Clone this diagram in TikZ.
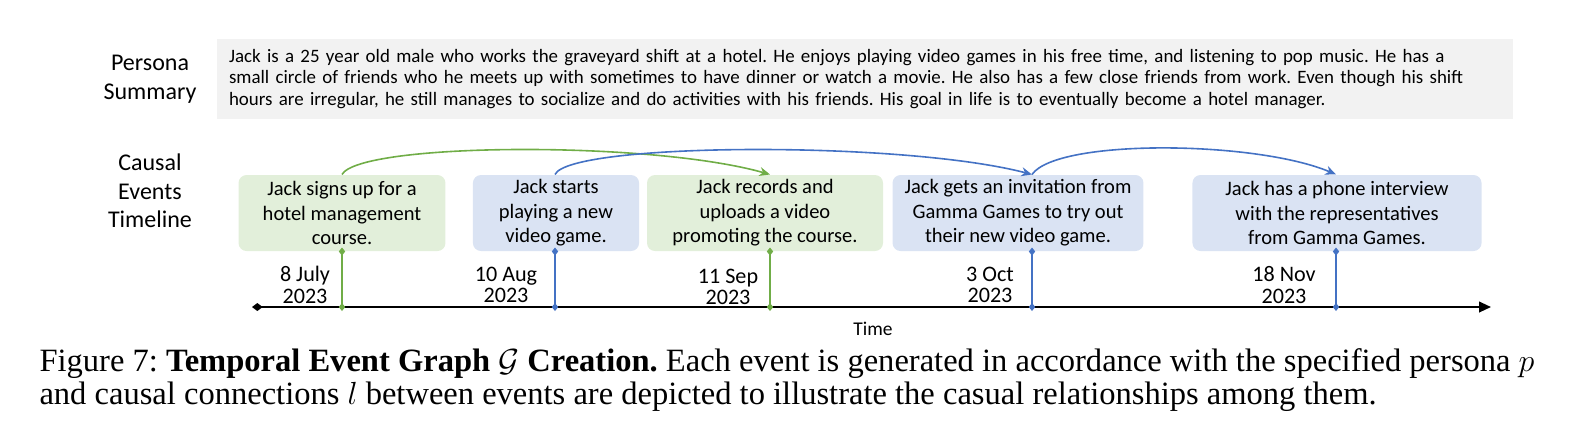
\documentclass[tikz,border=0pt]{standalone}
\usepackage{fontspec}
\usepackage{amsmath}
\setmainfont{Carlito}
\newfontfamily\capfont{Liberation Serif}
\usetikzlibrary{arrows.meta}
\frenchspacing

\definecolor{grnfill}{HTML}{E2EFDA}
\definecolor{blufill}{HTML}{DAE3F3}
\definecolor{grn}{HTML}{70AD47}
\definecolor{blu}{HTML}{4472C4}
\definecolor{grayfill}{HTML}{F2F2F2}

\begin{document}
\begin{tikzpicture}[x=0.375pt,y=-0.375pt,
        side/.style={align=center, font=\fontsize{9}{10.7}\selectfont},
        persona/.style={fill=grayfill, minimum width=486pt, minimum height=30pt,
          text width=477pt, inner xsep=4.5pt, align=left,
          font=\fontsize{7.1}{8.2}\selectfont},
        event/.style={rounded corners=3pt, minimum height=28.5pt, align=center,
          inner sep=1pt, font=\fontsize{7.7}{9.15}\selectfont},
        date/.style={align=center, font=\fontsize{8.3}{8}\selectfont},
        stem/.style={draw=#1, line width=0.6pt,
          {Diamond[length=3pt,width=2.4pt,fill=#1]}-{Diamond[length=3pt,width=2.4pt,fill=#1]},
          shorten <=-1.5pt, shorten >=-1.5pt},
        link/.style={draw=#1, line width=0.6pt, -{Stealth[length=4pt,width=3.4pt]}}]
        \useasboundingbox (0,0) rectangle (1595,438);

        \node[side] (lp) at (150,79) {Persona\\Summary};
        \node[side] (lc) at (150,191) {Causal\\Events\\Timeline};

        \node[persona] (ps) at (865,79) {Jack is a 25 year old male who works the graveyard shift at a hotel. He enjoys playing video games in his free time, and listening to pop music. He has a\\
          small circle of friends who he meets up with sometimes to have dinner or watch a movie. He also has a few close friends from work. Even though his shift\\
          hours are irregular, he still manages to socialize and do activities with his friends. His goal in life is to eventually become a hotel manager.};

        \node[event, fill=grnfill, minimum width=77.6pt] (e1) at (342,213) {Jack signs up for a\\hotel management\\course.};
        \node[event, fill=blufill, minimum width=62.3pt] (e2) at (556,213) {Jack starts\\playing a new\\video game.};
        \node[event, fill=grnfill, minimum width=88.5pt] (e3) at (765,213) {Jack records and\\uploads a video\\promoting the course.};
        \node[event, fill=blufill, minimum width=94.1pt] (e4) at (1018,213) {Jack gets an invitation from\\Gamma Games to try out\\their new video game.};
        \node[event, fill=blufill, minimum width=108.4pt] (e5) at (1337,213) {Jack has a phone interview\\with the representatives\\from Gamma Games.};

        \coordinate (a0) at (252,307);
        \coordinate (a1) at (1491,307);
        \coordinate (s1) at (342,307);
        \coordinate (s2) at (555,307);
        \coordinate (s3) at (770,307);
        \coordinate (s4) at (1032,307);
        \coordinate (s5) at (1336,307);

        \draw[line width=0.75pt, {Diamond[length=4pt,width=3pt]}-{Triangle[length=4.5pt,width=4pt]}] (a0) -- (a1);
        \node[font=\fontsize{7.3}{8}\selectfont] (tm) at (873,329) {Time};

        \foreach \n/\col in {1/grn,2/blu,3/grn,4/blu,5/blu}
          \draw[stem=\col] (e\n.south -| s\n) -- (s\n);

        \node[date] (d1) at (305,285) {8 July\\2023};
        \node[date] (d2) at (506,285) {10 Aug\\2023};
        \node[date] (d3) at (728,287) {11 Sep\\2023};
        \node[date] (d4) at (990,285) {3 Oct\\2023};
        \node[date] (d5) at (1284,285) {18 Nov\\2023};

        \draw[link=grn] (e1.north -| s1) .. controls +(18,-32) and +(-120,-34) .. (e3.north -| s3);
        \draw[link=blu] (e2.north -| s2) .. controls +(15,-32) and +(-130,-34) .. (e4.north -| s4);
        \draw[link=blu] (e4.north -| s4) .. controls +(25,-36) and +(-80,-34) .. (e5.north -| s5);

        \node[anchor=west, align=left, inner sep=0pt, font=\capfont\fontsize{12.2}{12.6}\selectfont] (cap) at (39,380)
          {Figure 7: \textbf{Temporal Event Graph $\mathcal{G}$ Creation.} Each event is generated in accordance with the specified persona $p$\\
          and causal connections $l$ between events are depicted to illustrate the casual relationships among them.};
\end{tikzpicture}
\end{document}
